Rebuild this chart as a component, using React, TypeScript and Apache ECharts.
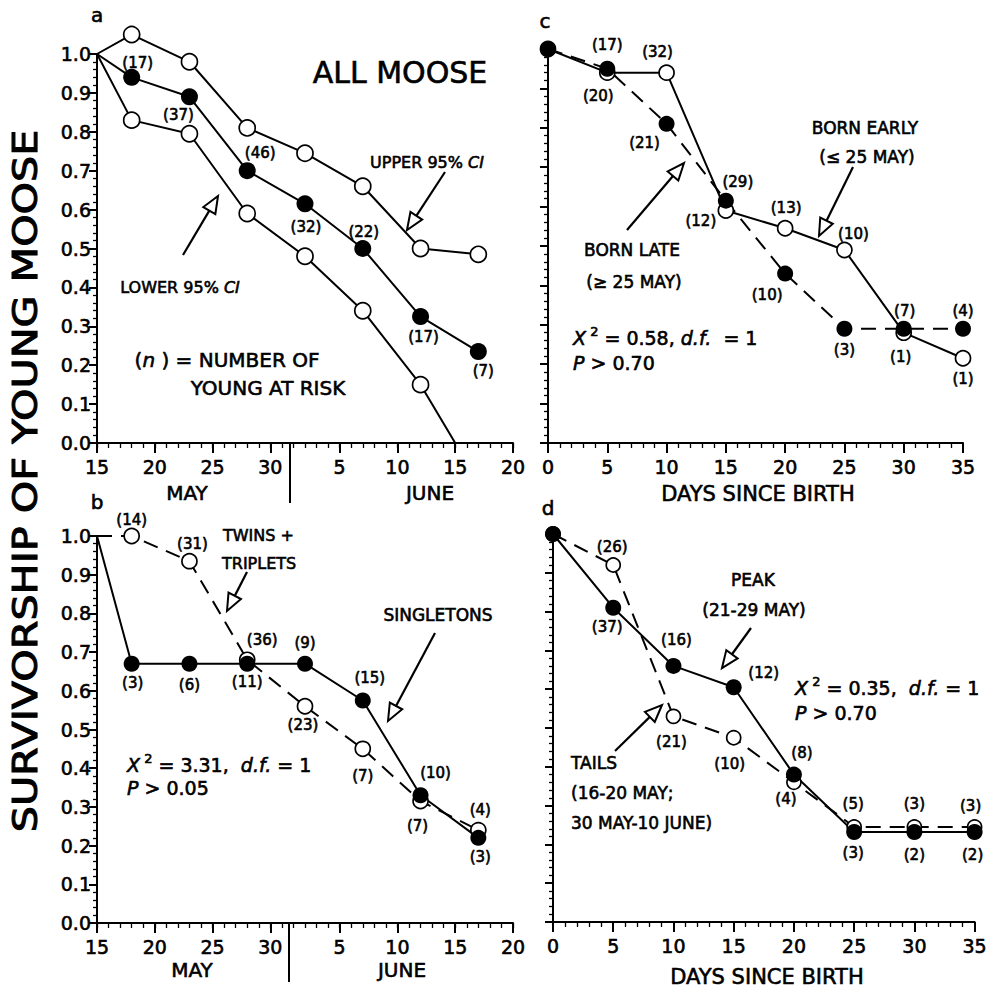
import React, { useEffect, useRef } from "react";
import * as echarts from "echarts";

// ---------- DATA ----------
// Panels a & b: x = days after 15 May
const dateTickDays = [0, 5, 10, 15, 21, 26, 31, 36];
const dateTickLabels = ["15", "20", "25", "30", "5", "10", "15", "20"];
const dateDays = [0, 3, 8, 13, 18, 23, 28, 33];
const lowerDays = [0, 3, 8, 13, 18, 23, 28, 31];

// Panel a: all moose
const allMoose = [1.0, 0.94, 0.89, 0.7, 0.615, 0.5, 0.325, 0.235];
const allMooseN = ["", "17", "37", "46", "32", "22", "17", "7"];
const upperCI = [1.0, 1.05, 0.98, 0.81, 0.745, 0.66, 0.5, 0.485];
const lowerCI = [1.0, 0.83, 0.795, 0.59, 0.48, 0.34, 0.15, 0.0];

// Panel b: singletons vs twins + triplets
const singletons = [1.0, 0.67, 0.67, 0.67, 0.67, 0.575, 0.33, 0.22];
const singletonsN = ["", "3", "6", "11", "9", "15", "10", "3"];
const twins = [1.0, 1.0, 0.935, 0.68, 0.56, 0.45, 0.315, 0.24];
const twinsN = ["", "14", "31", "36", "23", "7", "7", "4"];

// Panels c & d: days since birth
const birthDays = [0, 5, 10, 15, 20, 25, 30, 35];
const bornEarly = [1.0, 0.94, 0.94, 0.59, 0.545, 0.49, 0.28, 0.215];
const bornEarlyN = ["", "20", "32", "12", "13", "10", "1", "1"];
const bornLate = [1.0, 0.95, 0.81, 0.615, 0.43, 0.29, 0.29, 0.29];
const bornLateN = ["", "17", "21", "29", "10", "3", "7", "4"];

const peak = [1.0, 0.81, 0.66, 0.605, 0.38, 0.232, 0.232, 0.232];
const peakN = ["", "37", "16", "12", "8", "3", "2", "2"];
const tails = [1.0, 0.92, 0.53, 0.475, 0.36, 0.245, 0.245, 0.245];
const tailsN = ["", "26", "21", "10", "4", "5", "3", "3"];

// ---------- LAYOUT (label offsets in px) ----------
const offAll = [[0, 0], [6, -14], [-11, 18], [13, -18], [1, 23], [1, -17], [3, 20], [5, 19]];
const offSingle = [[0, 0], [1, 19], [0, 21], [0, 18], [0, -21], [7, -22], [15, -22], [2, 19]];
const offTwins = [[0, 0], [0, -16], [3, -17], [15, -20], [-2, 19], [0, 27], [-3, 25], [2, -20]];
const offEarly = [[0, 0], [-9, 23], [-9, -21], [-25, 10], [1, -20], [9, -16], [-3, 24], [0, 21]];
const offLate = [[0, 0], [0, -24], [-22, 19], [12, -19], [-18, 21], [0, 21], [1, -18], [0, -18]];
const offPeak = [[0, 0], [-6, 19], [3, -26], [30, -14], [8, -22], [-1, 21], [0, 23], [-2, 23]];
const offTails = [[0, 0], [-1, -18], [-2, 26], [-4, 26], [-8, 17], [-1, -23], [0, -23], [-4, -21]];

const FONT = "DejaVu Sans";
const BW = 0.6; // text thickening to mimic the printed weight

function mkSeries(o: {
  xi: number; yi: number; xs: number[]; ys: number[]; ns: string[]; offs: number[][];
  filled: boolean; dashed: boolean; size: number; noSym: number[];
}) {
  return {
    type: "line",
    xAxisIndex: o.xi,
    yAxisIndex: o.yi,
    clip: false,
    showAllSymbol: true,
    symbol: "circle",
    symbolSize: o.size,
    lineStyle: { color: "#000", width: 2, type: o.dashed ? [15, 9] : "solid" },
    itemStyle: o.filled
      ? { color: "#000", borderColor: "#000", borderWidth: 0 }
      : { color: "#fff", borderColor: "#000", borderWidth: 1.7 },
    label: {
      show: true,
      position: "inside",
      fontFamily: FONT,
      fontSize: 15,
      color: "#000",
      textBorderColor: "#000",
      textBorderWidth: BW,
      formatter: (p: any) => (o.ns[p.dataIndex] ? "(" + o.ns[p.dataIndex] + ")" : ""),
    },
    emphasis: { disabled: true },
    data: o.xs.map((x, i) => ({
      value: [x, o.ys[i]],
      symbol: o.noSym.includes(i) ? "none" : "circle",
      label: { offset: o.offs[i] },
    })),
  };
}

const yAxisBase = (gridIndex: number, showLabel: boolean) => ({
  type: "value",
  gridIndex,
  min: 0,
  max: 1,
  interval: 0.1,
  axisLine: { show: true, lineStyle: { color: "#000", width: 2 } },
  axisTick: { show: true, length: 8, lineStyle: { color: "#000", width: 2 } },
  minorTick: { show: true, splitNumber: 5, length: 4, lineStyle: { color: "#000", width: 1.3 } },
  splitLine: { show: false },
  axisLabel: {
    show: showLabel,
    fontFamily: FONT,
    fontSize: 19,
    color: "#000",
    textBorderColor: "#000",
    textBorderWidth: BW,
    margin: 6,
    formatter: (v: number) => v.toFixed(1),
  },
});

const dateAxis = (gridIndex: number) => ({
  type: "value",
  gridIndex,
  position: "bottom",
  min: 0,
  max: 36,
  interval: 1,
  axisLine: { show: true, lineStyle: { color: "#000", width: 2 } },
  axisTick: { show: true, length: 5, lineStyle: { color: "#000", width: 1.3 } },
  splitLine: { show: false },
  axisLabel: {
    fontFamily: FONT,
    fontSize: 19,
    color: "#000",
    textBorderColor: "#000",
    textBorderWidth: BW,
    margin: 14,
    formatter: (v: number) => {
      const k = dateTickDays.indexOf(Math.round(v));
      return k >= 0 ? dateTickLabels[k] : "";
    },
  },
});

const dateMajorAxis = (gridIndex: number) => ({
  type: "category",
  gridIndex,
  position: "bottom",
  boundaryGap: false,
  data: Array.from({ length: 37 }, (_, i) => String(i)),
  axisLine: { show: false },
  axisLabel: { show: false },
  splitLine: { show: false },
  axisTick: {
    show: true,
    length: 10,
    interval: (i: number) => dateTickDays.includes(i),
    lineStyle: { color: "#000", width: 2 },
  },
});

const daysAxis = (gridIndex: number) => ({
  type: "value",
  gridIndex,
  position: "bottom",
  min: 0,
  max: 35,
  interval: 5,
  axisLine: { show: true, lineStyle: { color: "#000", width: 2 } },
  axisTick: { show: true, length: 10, lineStyle: { color: "#000", width: 2 } },
  minorTick: { show: true, splitNumber: 5, length: 5, lineStyle: { color: "#000", width: 1.3 } },
  splitLine: { show: false },
  axisLabel: {
    fontFamily: FONT,
    fontSize: 19,
    color: "#000",
    textBorderColor: "#000",
    textBorderWidth: BW,
    margin: 14,
  },
});

function arrow(x1: number, y1: number, x2: number, y2: number) {
  const dx = x2 - x1, dy = y2 - y1;
  const len = Math.hypot(dx, dy);
  const ux = dx / len, uy = dy / len;
  const L = 17, W = 7;
  const bx = x2 - ux * L, by = y2 - uy * L;
  const px = -uy, py = ux;
  return [
    { type: "line", shape: { x1, y1, x2: bx, y2: by }, style: { stroke: "#000", lineWidth: 2.2 }, silent: true },
    {
      type: "polygon",
      shape: { points: [[x2, y2], [bx + px * W, by + py * W], [bx - px * W, by - py * W]] },
      style: { fill: "#fff", stroke: "#000", lineWidth: 2 },
      silent: true,
    },
  ];
}

function txt(x: number, y: number, text: string, size: number, align = "center", rich?: any, extra: any = {}, lw = BW) {
  return {
    type: "text",
    x,
    y,
    silent: true,
    ...extra,
    style: {
      text,
      fontFamily: FONT,
      fontSize: size,
      fill: "#000",
      stroke: "#000",
      lineWidth: lw,
      align,
      verticalAlign: "middle",
      rich,
    },
  };
}

const rs = (size: number, italic = false, sup = false) => ({
  fontFamily: FONT,
  fontSize: sup ? size - 6 : size,
  fontStyle: italic ? "italic" : "normal",
  fill: "#000",
  lineHeight: size + 8,
  verticalAlign: sup ? "top" : "middle",
});

const richStat = (size: number) => ({ n: rs(size), i: rs(size, true), s: rs(size, false, true) });

export default function App() {
  const ref = useRef<HTMLDivElement>(null);
  useEffect(() => {
    if (!ref.current) return;
    const chart = echarts.init(ref.current, undefined, { renderer: "svg" });
    const option: any = {
      animation: false,
      backgroundColor: "#fff",
      grid: [
        { left: 97, top: 54, width: 416, height: 389 },
        { left: 97, top: 536, width: 416, height: 387 },
        { left: 548, top: 49, width: 415, height: 394 },
        { left: 553, top: 534, width: 424, height: 388 },
      ],
      xAxis: [dateAxis(0), dateMajorAxis(0), dateAxis(1), dateMajorAxis(1), daysAxis(2), daysAxis(3)],
      yAxis: [yAxisBase(0, true), yAxisBase(1, true), yAxisBase(2, false), yAxisBase(3, false)],
      series: [
        mkSeries({ xi: 0, yi: 0, xs: dateDays, ys: upperCI, ns: [], offs: offAll, filled: false, dashed: false, size: 16, noSym: [0] }),
        mkSeries({ xi: 0, yi: 0, xs: lowerDays, ys: lowerCI, ns: [], offs: offAll, filled: false, dashed: false, size: 16, noSym: [0, 7] }),
        mkSeries({ xi: 0, yi: 0, xs: dateDays, ys: allMoose, ns: allMooseN, offs: offAll, filled: true, dashed: false, size: 17, noSym: [0] }),
        mkSeries({ xi: 2, yi: 1, xs: dateDays, ys: twins, ns: twinsN, offs: offTwins, filled: false, dashed: true, size: 15, noSym: [0] }),
        mkSeries({ xi: 2, yi: 1, xs: dateDays, ys: singletons, ns: singletonsN, offs: offSingle, filled: true, dashed: false, size: 16, noSym: [0] }),
        mkSeries({ xi: 4, yi: 2, xs: birthDays, ys: bornEarly, ns: bornEarlyN, offs: offEarly, filled: false, dashed: false, size: 15, noSym: [] }),
        mkSeries({ xi: 4, yi: 2, xs: birthDays, ys: bornLate, ns: bornLateN, offs: offLate, filled: true, dashed: true, size: 16, noSym: [] }),
        mkSeries({ xi: 5, yi: 3, xs: birthDays, ys: tails, ns: tailsN, offs: offTails, filled: false, dashed: true, size: 14, noSym: [] }),
        mkSeries({ xi: 5, yi: 3, xs: birthDays, ys: peak, ns: peakN, offs: offPeak, filled: true, dashed: false, size: 16, noSym: [] }),
      ],
      graphic: [
        // big y title
        txt(26, 481, "SURVIVORSHIP OF YOUNG MOOSE", 33, "center", undefined, { rotation: Math.PI / 2, scaleX: 1.25 }, 1),
        // panel letters
        txt(97, 15, "a", 20),
        txt(97, 502, "b", 20),
        txt(545, 21, "c", 20),
        txt(548, 508, "d", 20),
        // panel a
        txt(400, 72, "ALL MOOSE", 30),
        txt(427, 162, "{n|UPPER 95% }{i|CI}", 16, "center", { n: rs(16), i: rs(16, true) }),
        txt(180, 287, "{n|LOWER 95% }{i|CI}", 16, "center", { n: rs(16), i: rs(16, true) }),
        txt(227, 360, "{n|(}{i|n}{n| ) = NUMBER OF}", 20, "center", { n: rs(20), i: rs(20, true) }),
        txt(268, 388, "YOUNG AT RISK", 20),
        ...arrow(445, 172, 407, 230),
        ...arrow(183, 255, 218, 196),
        { type: "line", shape: { x1: 290, y1: 444, x2: 290, y2: 503 }, style: { stroke: "#000", lineWidth: 2 } },
        txt(187, 493, "MAY", 20),
        txt(430, 493, "JUNE", 20),
        // panel b
        txt(223, 535, "TWINS +", 16, "left"),
        txt(222, 563, "TRIPLETS", 16, "left"),
        ...arrow(247, 572, 227, 611),
        txt(438, 615, "SINGLETONS", 17),
        ...arrow(435, 633, 388, 721),
        txt(127, 765, "{i|X}{s| 2}{n| = 3.31,  }{i|d.f.}{n| = 1}", 19, "left", richStat(19)),
        txt(127, 788, "{i|P}{n| > 0.05}", 19, "left", richStat(19)),
        { type: "line", shape: { x1: 289, y1: 924, x2: 289, y2: 982 }, style: { stroke: "#000", lineWidth: 2 } },
        txt(192, 970, "MAY", 20),
        txt(402, 970, "JUNE", 20),
        // panel c
        txt(865, 128, "BORN EARLY", 17),
        txt(867, 157, "(≤ 25 MAY)", 17),
        ...arrow(853, 167, 819, 236),
        txt(632, 250, "BORN LATE", 17),
        txt(634, 282, "(≥ 25 MAY)", 17),
        ...arrow(627, 230, 684, 163),
        txt(573, 338, "{i|X}{s| 2}{n| = 0.58, }{i|d.f.}{n|  = 1}", 19, "left", richStat(19)),
        txt(573, 363, "{i|P}{n| > 0.70}", 19, "left", richStat(19)),
        txt(758, 494, "DAYS SINCE BIRTH", 21),
        // panel d
        txt(753, 580, "PEAK", 17),
        txt(754, 610, "(21-29 MAY)", 17),
        ...arrow(751, 628, 722, 668),
        txt(571, 763, "TAILS", 17, "left"),
        txt(571, 793, "(16-20 MAY;", 17, "left"),
        txt(571, 823, "30 MAY-10 JUNE)", 17, "left"),
        ...arrow(615, 751, 662, 705),
        txt(795, 688, "{i|X}{s| 2}{n| = 0.35,  }{i|d.f.}{n| = 1}", 19, "left", richStat(19)),
        txt(795, 713, "{i|P}{n| > 0.70}", 19, "left", richStat(19)),
        txt(767, 977, "DAYS SINCE BIRTH", 21),
      ],
    };
    chart.setOption(option);
    return () => chart.dispose();
  }, []);
  return (
    <div
      ref={ref}
      style={{ position: "fixed", left: 0, top: 0, width: 990, height: 988, background: "#fff" }}
    />
  );
}
